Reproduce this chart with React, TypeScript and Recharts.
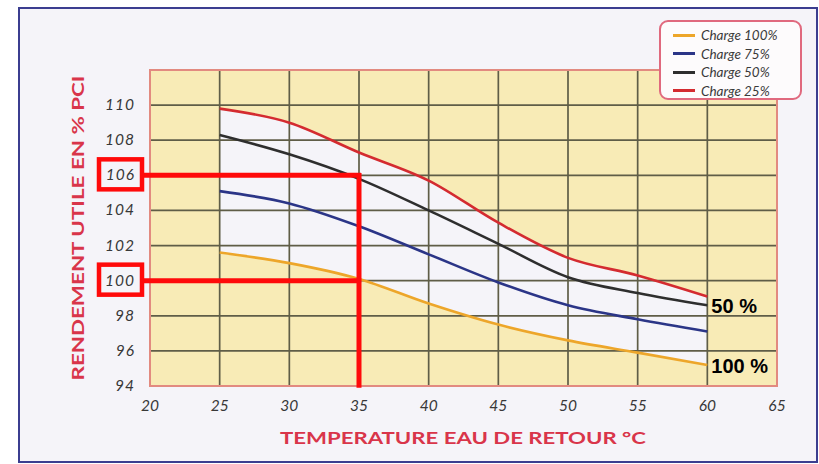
import {
  Area,
  CartesianGrid,
  ComposedChart,
  LabelList,
  Line,
  ReferenceArea,
  ReferenceLine,
  XAxis,
  YAxis,
} from "recharts";

const temps = [25, 30, 35, 40, 45, 50, 55, 60];
const charge100 = [101.6, 101.0, 100.1, 98.7, 97.5, 96.6, 95.9, 95.2];
const charge75 = [105.1, 104.4, 103.1, 101.5, 99.9, 98.6, 97.8, 97.1];
const charge50 = [108.3, 107.2, 105.8, 104.0, 102.1, 100.2, 99.3, 98.6];
const charge25 = [109.8, 109.0, 107.3, 105.7, 103.3, 101.3, 100.3, 99.1];

const xTicks = [20, 25, 30, 35, 40, 45, 50, 55, 60, 65];
const yTicks = [94, 96, 98, 100, 102, 104, 106, 108, 110];
const boxedTicks = [100, 106];

const series = [
  { key: "c100", name: "Charge 100%", color: "#eda62a", end: "100 %" },
  { key: "c75", name: "Charge 75%", color: "#2b3587", end: "" },
  { key: "c50", name: "Charge 50%", color: "#2e2e2e", end: "50 %" },
  { key: "c25", name: "Charge 25%", color: "#d42b30", end: "" },
];

const data = temps.map((t, i) => ({
  t,
  c100: charge100[i],
  c75: charge75[i],
  c50: charge50[i],
  c25: charge25[i],
  band: [charge100[i], charge25[i]],
}));

const RED = "#ff0a0a";
const TITLE = "#d9354a";
const TICK_FONT = "Lato, 'DejaVu Sans', sans-serif";
const W = 819;
const H = 464;
const MARGIN = { top: 70, right: 42, left: 0, bottom: 0 };

const YTick = (props: any) => {
  const { x, y, payload } = props;
  const boxed = boxedTicks.includes(payload.value);
  return (
    <g>
      {boxed ? (
        <rect x={x - 36} y={y - 16} width={43} height={30} fill="none" stroke={RED} strokeWidth={4.5} />
      ) : null}
      <text
        x={x}
        y={y + 5}
        textAnchor="end"
        fontFamily={TICK_FONT}
        fontStyle="italic"
        fontSize={15.5}
        fill="#383838"
        letterSpacing={1}
      >
        {payload.value}
      </text>
    </g>
  );
};

const XTick = (props: any) => {
  const { x, y, payload } = props;
  return (
    <text
      x={x}
      y={y + 17}
      textAnchor="middle"
      fontFamily={TICK_FONT}
      fontStyle="italic"
      fontSize={15.5}
      fill="#383838"
    >
      {payload.value}
    </text>
  );
};

const EndLabel = (text: string) => (props: any) => {
  const { x, y, index } = props;
  if (index !== temps.length - 1) return null;
  return (
    <text
      x={x + 4}
      y={y + 8}
      fontFamily="'Liberation Sans', Arial, sans-serif"
      fontWeight="bold"
      fontSize={20}
      fill="#000"
    >
      {text}
    </text>
  );
};

const LegendBox = () => (
  <div
    style={{
      position: "absolute",
      left: 659,
      top: 20,
      width: 143,
      height: 80,
      boxSizing: "border-box",
      border: "2px solid #e0697e",
      borderRadius: 9,
      background: "#fdfbfc",
      padding: "4px 0 0 12px",
      fontFamily: TICK_FONT,
      fontStyle: "italic",
      fontSize: 13.5,
      color: "#3a3a3a",
    }}
  >
    {series.map((s) => (
      <div key={s.key} style={{ display: "flex", alignItems: "center", height: 18.5 }}>
        <span style={{ display: "inline-block", width: 22, height: 3, background: s.color, marginRight: 6 }} />
        <span>{s.name}</span>
      </div>
    ))}
  </div>
);

// two charts share one layout: the back one paints the yellow plot and the pale band,
// the front one draws grid, curves, axes and the red reading lines over it
const App = () => {
  return (
    <div style={{ position: "absolute", left: 0, top: 0, width: W, height: H, background: "#ffffff" }}>
      <div
        style={{
          position: "absolute",
          left: 18,
          top: 7,
          width: 800,
          height: 456,
          boxSizing: "border-box",
          border: "2px solid #3b3e90",
          background: "#f5f4f9",
        }}
      />
      <div style={{ position: "absolute", left: 0, top: 0 }}>
        <ComposedChart width={W} height={H} data={data} margin={MARGIN}>
          <CartesianGrid stroke="none" fill="#f8ebb6" fillOpacity={1} />
          <XAxis dataKey="t" type="number" domain={[20, 65]} ticks={xTicks} height={78} axisLine={false} tickLine={false} tick={false} />
          <YAxis type="number" domain={[94, 112]} ticks={yTicks} width={150} axisLine={false} tickLine={false} tick={false} />
          <Area
            dataKey="band"
            type="monotone"
            stroke="none"
            fill="#f5f4f9"
            fillOpacity={1}
            isAnimationActive={false}
            legendType="none"
          />
        </ComposedChart>
      </div>
      <div style={{ position: "absolute", left: 0, top: 0 }}>
        <ComposedChart width={W} height={H} data={data} margin={MARGIN}>
          <CartesianGrid stroke="#5f5d47" strokeWidth={1.7} fill="none" />
          <XAxis
            dataKey="t"
            type="number"
            domain={[20, 65]}
            ticks={xTicks}
            axisLine={false}
            tickLine={false}
            height={78}
            tick={XTick}
            label={{
              content: () => (
                <text
                  x={463}
                  y={444}
                  textAnchor="middle"
                  fontFamily="Lato, sans-serif"
                  fontWeight="bold"
                  fontSize={17}
                  fill={TITLE}
                  textLength={366}
                  lengthAdjust="spacingAndGlyphs"
                >
                  TEMPERATURE EAU DE RETOUR °C
                </text>
              ),
            }}
          />
          <YAxis
            type="number"
            domain={[94, 112]}
            ticks={yTicks}
            axisLine={false}
            tickLine={false}
            width={150}
            tickMargin={9}
            tick={YTick}
            label={{
              content: () => (
                <text
                  x={84}
                  y={228}
                  transform="rotate(-90 84 228)"
                  textAnchor="middle"
                  fontFamily="Lato, sans-serif"
                  fontWeight="bold"
                  fontSize={17}
                  fill={TITLE}
                  textLength={305}
                  lengthAdjust="spacingAndGlyphs"
                >
                  RENDEMENT UTILE EN % PCI
                </text>
              ),
            }}
          />
          {series.map((s) => (
            <Line
              key={s.key}
              dataKey={s.key}
              name={s.name}
              type="monotone"
              stroke={s.color}
              strokeWidth={2.6}
              dot={false}
              isAnimationActive={false}
            >
              {s.end ? <LabelList dataKey={s.key} content={EndLabel(s.end)} /> : null}
            </Line>
          ))}
          <ReferenceArea x1={20} x2={65} y1={94} y2={112} fill="none" stroke="#e28a80" strokeWidth={2} />
          <ReferenceLine
            segment={[{ x: 19.5, y: 106 }, { x: 35.15, y: 106 }]}
            stroke={RED}
            strokeWidth={5}
            ifOverflow="visible"
          />
          <ReferenceLine
            segment={[{ x: 19.5, y: 100 }, { x: 35.15, y: 100 }]}
            stroke={RED}
            strokeWidth={5}
            ifOverflow="visible"
          />
          <ReferenceLine
            segment={[{ x: 35, y: 106.14 }, { x: 35, y: 93.9 }]}
            stroke={RED}
            strokeWidth={5}
            ifOverflow="visible"
          />
        </ComposedChart>
      </div>
      <LegendBox />
    </div>
  );
};

export default App;
